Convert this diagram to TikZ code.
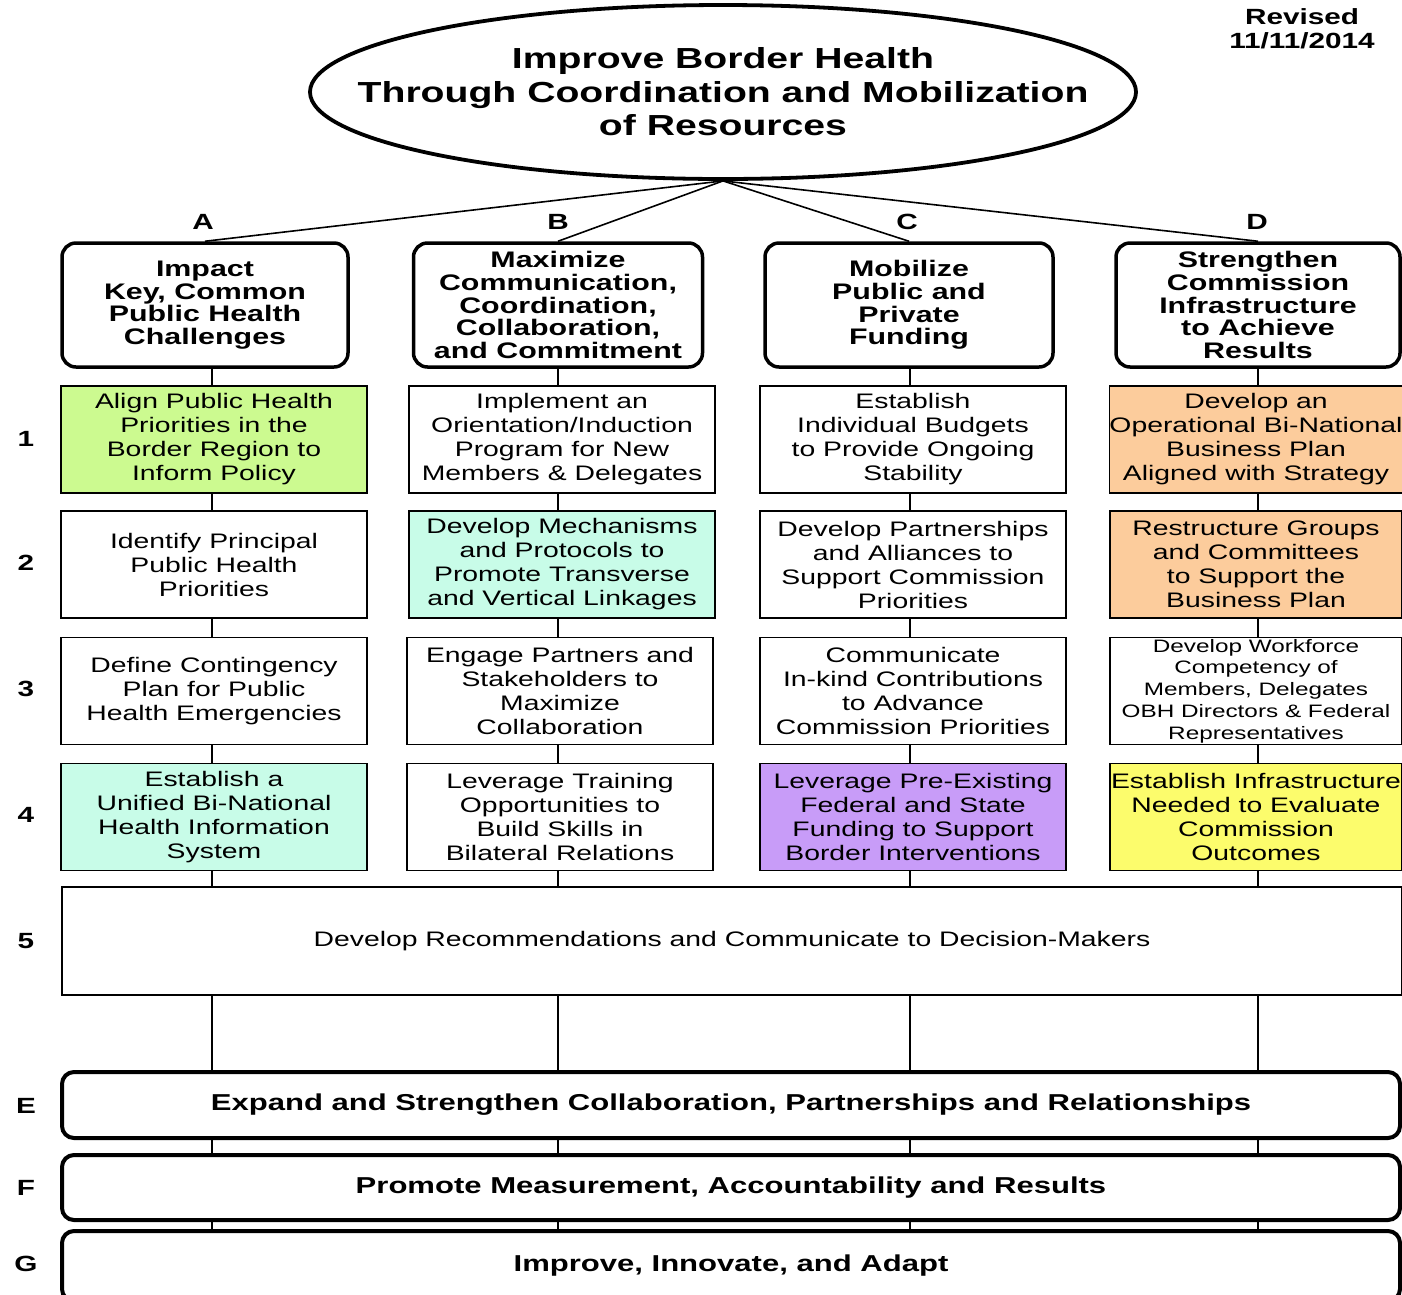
\documentclass[tikz,border=0pt]{standalone}
\usepackage{fontspec}
\setmainfont{Liberation Sans}[FakeStretch=1.35]
\usetikzlibrary{shapes.geometric}
\definecolor{cellgreen}{HTML}{CCFA90}
\definecolor{cellcyan}{HTML}{C8FCE8}
\definecolor{cellorange}{HTML}{FCCC9C}
\definecolor{cellpurple}{HTML}{C89CF8}
\definecolor{cellyellow}{HTML}{FCFC6C}
\tikzstyle{every node}=[align=center, inner sep=0pt]
\tikzstyle{headbox}=[draw, line width=3.5pt, rounded corners=14pt, minimum height=124pt, font=\fontsize{22.5}{22.6}\selectfont\bfseries]
\tikzstyle{cellbox}=[draw, line width=1.2pt, minimum width=306pt, minimum height=107pt, font=\fontsize{21}{24}\selectfont]
\tikzstyle{barbox}=[draw, line width=4pt, rounded corners=12pt, minimum width=1338pt, font=\fontsize{23}{23}\selectfont\bfseries]
\tikzstyle{rowtag}=[font=\fontsize{22}{24}\selectfont\bfseries]
\tikzstyle{link}=[line width=1.6pt]

\begin{document}
\begin{tikzpicture}[x=1pt, y=-1pt]
\useasboundingbox (0,0) rectangle (1402,1294);
% Goal
    \node[ellipse, draw, line width=3.8pt, minimum width=826pt, minimum height=174pt] (goal) at (723,92) {};
    \node[font=\fontsize{29}{33.5}\selectfont\bfseries] (goaltext) at (goal.center)
        {Improve Border Health\\Through Coordination and Mobilization\\of Resources};
    \node[rowtag] (revised) at (1302,29) {Revised\\11/11/2014};
% Strategy headers
    \node[rowtag] (labA) at (203,222) {A};
    \node[rowtag] (labB) at (558,222) {B};
    \node[rowtag] (labC) at (907,222) {C};
    \node[rowtag] (labD) at (1257,222) {D};
    \node[headbox, minimum width=286pt] (a0) at (205,305) {Impact\\Key, Common\\Public Health\\Challenges};
    \node[headbox, minimum width=289pt] (b0) at (558,305) {Maximize\\Communication,\\Coordination,\\Collaboration,\\and Commitment};
    \node[headbox, minimum width=288pt] (c0) at (909,305) {Mobilize\\Public and\\Private\\Funding};
    \node[headbox, minimum width=284pt] (d0) at (1258,305) {Strengthen\\Commission\\Infrastructure\\to Achieve\\Results};
% Row labels
    \node[rowtag] (num1) at (26,439) {1};
    \node[rowtag] (num2) at (26,563) {2};
    \node[rowtag] (num3) at (26,689) {3};
    \node[rowtag] (num4) at (26,815) {4};
    \node[rowtag] (num5) at (26,941) {5};
    \node[rowtag] (numE) at (26,1106) {E};
    \node[rowtag] (numF) at (26,1188) {F};
    \node[rowtag] (numG) at (26,1264) {G};
% Objectives, row 1
    \node[cellbox, fill=cellgreen] (a1) at (214,439.5) {Align Public Health\\Priorities in the\\Border Region to\\Inform Policy};
    \node[cellbox] (b1) at (562,439.5) {Implement an\\Orientation/Induction\\Program for New\\Members \& Delegates};
    \node[cellbox] (c1) at (913,439.5) {Establish\\Individual Budgets\\to Provide Ongoing\\Stability};
    \node[cellbox, fill=cellorange, minimum width=292pt] (d1) at (1256,439.5) {Develop an\\Operational Bi-National\\Business Plan\\Aligned with Strategy};
% Objectives, row 2
    \node[cellbox] (a2) at (214,564.5) {Identify Principal\\Public Health\\Priorities};
    \node[cellbox, fill=cellcyan] (b2) at (562,564.5) {Develop Mechanisms\\and Protocols to\\Promote Transverse\\and Vertical Linkages};
    \node[cellbox] (c2) at (913,564.5) {Develop Partnerships\\and Alliances to\\Support Commission\\Priorities};
    \node[cellbox, fill=cellorange, minimum width=292pt] (d2) at (1256,564.5) {Restructure Groups\\and Committees\\to Support the\\Business Plan};
% Objectives, row 3
    \node[cellbox] (a3) at (214,691) {Define Contingency\\Plan for Public\\Health Emergencies};
    \node[cellbox] (b3) at (560,691) {Engage Partners and\\Stakeholders to\\Maximize\\Collaboration};
    \node[cellbox] (c3) at (913,691) {Communicate\\In-kind Contributions\\to Advance\\Commission Priorities};
    \node[cellbox, minimum width=292pt, font=\fontsize{18}{21.7}\selectfont] (d3) at (1256,691) {Develop Workforce\\Competency of\\Members, Delegates\\OBH Directors \& Federal\\Representatives};
% Objectives, row 4
    \node[cellbox, fill=cellcyan] (a4) at (214,817) {Establish a\\Unified Bi-National\\Health Information\\System};
    \node[cellbox] (b4) at (560,817) {Leverage Training\\Opportunities to\\Build Skills in\\Bilateral Relations};
    \node[cellbox, fill=cellpurple] (c4) at (913,817) {Leverage Pre-Existing\\Federal and State\\Funding to Support\\Border Interventions};
    \node[cellbox, fill=cellyellow, minimum width=292pt] (d4) at (1256,817) {Establish Infrastructure\\Needed to Evaluate\\Commission\\Outcomes};
% Row 5
    \node[cellbox, minimum width=1340pt, minimum height=108pt] (r5) at (732,941) {Develop Recommendations and Communicate to Decision-Makers};
% Cross-cutting bars
    \node[barbox, minimum height=66pt] (e) at (731,1105) {Expand and Strengthen Collaboration, Partnerships and Relationships};
    \node[barbox, minimum height=65pt] (f) at (731,1187.5) {Promote Measurement, Accountability and Results};
    \node[barbox, minimum height=70pt] (g) at (731,1266) {Improve, Innovate, and Adapt};
% Column lines
    \coordinate (colA) at (212,0);
    \coordinate (colB) at (558,0);
    \coordinate (colC) at (910,0);
    \coordinate (colD) at (1258,0);
% Goal to headers
    \draw[link] (goal.south) -- (a0.north);
    \draw[link] (goal.south) -- (b0.north);
    \draw[link] (goal.south) -- (c0.north);
    \draw[link] (goal.south) -- (d0.north);
% Column A
    \draw[link] (colA |- a0.south) -- (colA |- a1.north);
    \draw[link] (colA |- a1.south) -- (colA |- a2.north);
    \draw[link] (colA |- a2.south) -- (colA |- a3.north);
    \draw[link] (colA |- a3.south) -- (colA |- a4.north);
    \draw[link] (colA |- a4.south) -- (colA |- r5.north);
    \draw[link] (colA |- r5.south) -- (colA |- e.north);
    \draw[link] (colA |- e.south) -- (colA |- f.north);
    \draw[link] (colA |- f.south) -- (colA |- g.north);
% Column B
    \draw[link] (colB |- b0.south) -- (colB |- b1.north);
    \draw[link] (colB |- b1.south) -- (colB |- b2.north);
    \draw[link] (colB |- b2.south) -- (colB |- b3.north);
    \draw[link] (colB |- b3.south) -- (colB |- b4.north);
    \draw[link] (colB |- b4.south) -- (colB |- r5.north);
    \draw[link] (colB |- r5.south) -- (colB |- e.north);
    \draw[link] (colB |- e.south) -- (colB |- f.north);
    \draw[link] (colB |- f.south) -- (colB |- g.north);
% Column C
    \draw[link] (colC |- c0.south) -- (colC |- c1.north);
    \draw[link] (colC |- c1.south) -- (colC |- c2.north);
    \draw[link] (colC |- c2.south) -- (colC |- c3.north);
    \draw[link] (colC |- c3.south) -- (colC |- c4.north);
    \draw[link] (colC |- c4.south) -- (colC |- r5.north);
    \draw[link] (colC |- r5.south) -- (colC |- e.north);
    \draw[link] (colC |- e.south) -- (colC |- f.north);
    \draw[link] (colC |- f.south) -- (colC |- g.north);
% Column D
    \draw[link] (colD |- d0.south) -- (colD |- d1.north);
    \draw[link] (colD |- d1.south) -- (colD |- d2.north);
    \draw[link] (colD |- d2.south) -- (colD |- d3.north);
    \draw[link] (colD |- d3.south) -- (colD |- d4.north);
    \draw[link] (colD |- d4.south) -- (colD |- r5.north);
    \draw[link] (colD |- r5.south) -- (colD |- e.north);
    \draw[link] (colD |- e.south) -- (colD |- f.north);
    \draw[link] (colD |- f.south) -- (colD |- g.north);
\end{tikzpicture}
\end{document}
